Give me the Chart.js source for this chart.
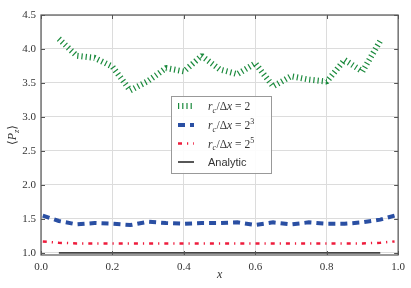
<!DOCTYPE html>
<html>
<head>
<meta charset="utf-8">
<script src="https://cdn.jsdelivr.net/npm/chart.js@4.4.1/dist/chart.umd.min.js"></script>
<style>
  html, body { margin: 0; padding: 0; background: #fff; }
  #wrap { width: 411px; height: 288px; }
</style>
</head>
<body>
<div id="wrap"><canvas id="chart" width="411" height="288"></canvas></div>
<script>
// ─── DATA ───
const xTicks = [0.0, 0.2, 0.4, 0.6, 0.8, 1.0];
const yTicks = [1.0, 1.5, 2.0, 2.5, 3.0, 3.5, 4.0, 4.5];

const xGreen = [0.05, 0.10, 0.15, 0.20, 0.25, 0.30, 0.35, 0.40, 0.45, 0.50, 0.55, 0.60, 0.65, 0.70, 0.75, 0.80, 0.85, 0.90, 0.95];
const greenVals = [4.15, 3.90, 3.87, 3.74, 3.39, 3.53, 3.72, 3.67, 3.90, 3.70, 3.63, 3.79, 3.45, 3.60, 3.55, 3.52, 3.84, 3.67, 4.12];

const xBlue = [0.005, 0.05, 0.10, 0.15, 0.20, 0.25, 0.30, 0.35, 0.40, 0.45, 0.50, 0.55, 0.60, 0.65, 0.70, 0.75, 0.80, 0.85, 0.90, 0.95, 0.99];
const blueVals = [1.55, 1.47, 1.42, 1.44, 1.43, 1.41, 1.46, 1.44, 1.43, 1.44, 1.44, 1.45, 1.41, 1.45, 1.42, 1.45, 1.43, 1.43, 1.45, 1.49, 1.55];

const xRed = [0.005, 0.05, 0.10, 0.15, 0.20, 0.25, 0.30, 0.35, 0.40, 0.45, 0.50, 0.55, 0.60, 0.65, 0.70, 0.75, 0.80, 0.85, 0.90, 0.95, 0.99];
const redVals = [1.17, 1.15, 1.14, 1.14, 1.14, 1.14, 1.14, 1.14, 1.14, 1.14, 1.14, 1.14, 1.14, 1.14, 1.14, 1.14, 1.14, 1.14, 1.14, 1.15, 1.17];

const xAnalytic = [0.05, 0.95];
const analyticVals = [1.0, 1.0];

const seriesLabels = ['r_c/Δx = 2', 'r_c/Δx = 2^3', 'r_c/Δx = 2^5', 'Analytic'];

const COLORS = { green: '#1b8a3d', blue: '#2a4fa3', red: '#ee1c3c', black: '#444' };

const toPts = (xs, ys) => xs.map((x, i) => ({ x: x, y: ys[i] }));

// ─── PLUGIN: frame, inner ticks, titles, legend ───
const decor = {
    id: 'decor',
    afterDatasetsDraw(chart) {
        const ctx = chart.ctx;
        const a = chart.chartArea;
        const xs = chart.scales.x, ys = chart.scales.y;
        ctx.save();
        // frame
        ctx.strokeStyle = '#555';
        ctx.lineWidth = 1.2;
        ctx.strokeRect(a.left, a.top, a.right - a.left, a.bottom - a.top);
        // inner ticks
        ctx.lineWidth = 1;
        ctx.beginPath();
        xTicks.forEach(v => {
            const px = Math.round(xs.getPixelForValue(v)) + 0.5;
            ctx.moveTo(px, a.bottom); ctx.lineTo(px, a.bottom - 4);
            ctx.moveTo(px, a.top); ctx.lineTo(px, a.top + 4);
        });
        yTicks.forEach(v => {
            const py = Math.round(ys.getPixelForValue(v)) + 0.5;
            ctx.moveTo(a.left, py); ctx.lineTo(a.left + 4, py);
            ctx.moveTo(a.right, py); ctx.lineTo(a.right - 4, py);
        });
        ctx.stroke();

        // axis titles
        ctx.fillStyle = '#333';
        ctx.textBaseline = 'alphabetic';
        ctx.font = 'italic 12px "Liberation Serif"';
        ctx.textAlign = 'center';
        ctx.fillText('x', (a.left + a.right) / 2, 278);

        ctx.save();
        ctx.translate(12, (a.top + a.bottom) / 2);
        ctx.rotate(-Math.PI / 2);
        ctx.textAlign = 'left';
        let w = 0;
        const parts = [['⟨', '12px "DejaVu Serif"', 0], ['P', 'italic 12px "Liberation Serif"', 0], ['z', 'italic 8.5px "Liberation Serif"', 2.5], ['⟩', '12px "DejaVu Serif"', 0]];
        parts.forEach(p => { ctx.font = p[1]; w += ctx.measureText(p[0]).width; });
        let cx = -w / 2;
        parts.forEach(p => { ctx.font = p[1]; ctx.fillText(p[0], cx, 4 + p[2]); cx += ctx.measureText(p[0]).width; });
        ctx.restore();

        // legend
        const lx = 171.5, ly = 96.5, lw = 100, lh = 77;
        ctx.fillStyle = 'rgba(255,255,255,0.9)';
        ctx.fillRect(lx, ly, lw, lh);
        ctx.strokeStyle = '#999';
        ctx.lineWidth = 1;
        ctx.strokeRect(lx, ly, lw, lh);
        const rowY = [106, 125, 143.5, 162];
        chart.data.datasets.forEach((ds, i) => {
            const y = rowY[i];
            ctx.save();
            ctx.strokeStyle = ds.borderColor;
            ctx.lineWidth = ds.borderWidth;
            ctx.setLineDash(ds.borderDash || []);
            ctx.beginPath();
            ctx.moveTo(178, y); ctx.lineTo(194, y);
            ctx.stroke();
            ctx.restore();
            drawLabel(ctx, seriesLabels[i], 208, y + 4);
        });
        ctx.restore();
    }
};

function drawLabel(ctx, label, x, y) {
    ctx.fillStyle = '#333';
    ctx.textAlign = 'left';
    if (label.indexOf('r_c') !== 0) {
        ctx.font = '11px "Liberation Sans"';
        ctx.fillText(label, x, y);
        return;
    }
    const main = 'italic 11.5px "Liberation Serif"';
    const up = '11.5px "Liberation Serif"';
    const small = 'italic 8px "Liberation Serif"';
    const sup = label.split('^')[1];
    const parts = [['r', main, 0], ['c', small, 2.5], ['/', up, 0], ['Δ', up, 0], ['x', main, 0], [' = 2', up, 0]];
    if (sup) parts.push([sup, '8px "Liberation Serif"', -5]);
    let cx = x;
    parts.forEach(p => {
        ctx.font = p[1];
        ctx.fillText(p[0], cx, y + p[2]);
        cx += ctx.measureText(p[0]).width + (p[0] === 'c' ? 0.5 : 0);
    });
}

new Chart(document.getElementById('chart'), {
    type: 'line',
    data: {
        datasets: [
            { label: seriesLabels[0], data: toPts(xGreen, greenVals), borderColor: COLORS.green, borderWidth: 6, borderDash: [1.2, 3], borderJoinStyle: 'bevel' },
            { label: seriesLabels[1], data: toPts(xBlue, blueVals), borderColor: COLORS.blue, borderWidth: 4, borderDash: [7, 5] },
            { label: seriesLabels[2], data: toPts(xRed, redVals), borderColor: COLORS.red, borderWidth: 2.5, borderDash: [4, 5, 1.2, 5] },
            { label: seriesLabels[3], data: toPts(xAnalytic, analyticVals), borderColor: COLORS.black, borderWidth: 1.8 }
        ]
    },
    options: {
        responsive: false,
        animation: false,
        elements: { point: { radius: 0 }, line: { tension: 0, borderCapStyle: 'butt' } },
        layout: { padding: { top: 15, right: 12, left: 0, bottom: 0 } },
        plugins: { legend: { display: false }, tooltip: { enabled: false } },
        scales: {
            x: {
                type: 'linear', min: 0, max: 1,
                afterBuildTicks: s => { s.ticks = xTicks.map(v => ({ value: v })); },
                afterFit: s => { s.height = 33; },
                grid: { color: '#dcdcdc', lineWidth: 1, drawTicks: false },
                border: { display: false },
                ticks: { padding: 6, color: '#333', font: { family: 'Liberation Serif', size: 11 }, callback: v => v.toFixed(1) }
            },
            y: {
                type: 'linear', min: 0.97, max: 4.5,
                afterBuildTicks: s => { s.ticks = yTicks.map(v => ({ value: v })); },
                afterFit: s => { s.width = 41; },
                grid: { color: '#dcdcdc', lineWidth: 1, drawTicks: false },
                border: { display: false },
                ticks: { padding: 5, color: '#333', font: { family: 'Liberation Serif', size: 11 }, callback: v => v.toFixed(1) }
            }
        }
    },
    plugins: [decor]
});
</script>
</body>
</html>
